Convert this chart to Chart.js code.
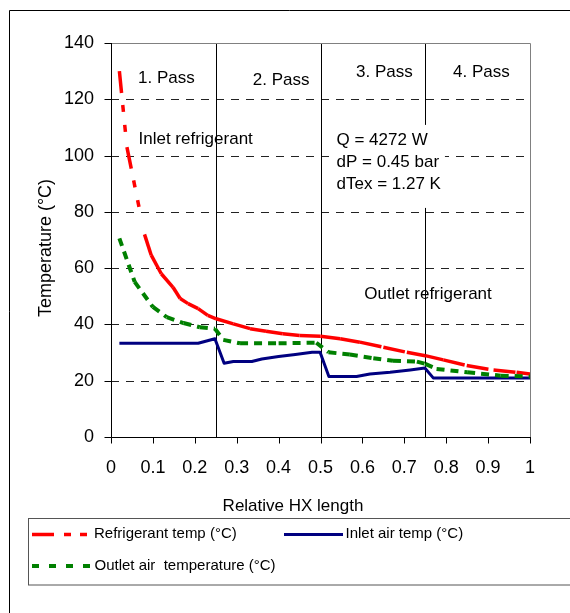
<!DOCTYPE html>
<html>
<head>
<meta charset="utf-8">
<script src="https://cdn.jsdelivr.net/npm/chart.js@4/dist/chart.umd.min.js"></script>
<style>
html,body{margin:0;padding:0;background:#fff;}
#wrap{position:relative;width:570px;height:613px;}
</style>
</head>
<body>
<div id="wrap"><canvas id="c" width="570" height="613"></canvas></div>
<script>
// ---- data ----
const refX    = [0.02, 0.038, 0.08, 0.096, 0.12, 0.148, 0.165, 0.184, 0.208, 0.231, 0.251, 0.292, 0.332, 0.37, 0.41, 0.45, 0.5, 0.547, 0.594, 0.65, 0.706, 0.75, 0.793, 0.849, 0.913, 0.968, 1.0];
const refT    = [130, 103, 72, 64.6, 58, 53.2, 49.2, 47.4, 45.6, 43.2, 42.0, 40.2, 38.5, 37.6, 36.7, 36.1, 35.8, 34.9, 33.7, 31.9, 30.1, 28.9, 27.4, 25.4, 23.8, 23.0, 22.4];

const inletX  = [0.02, 0.208, 0.248, 0.27, 0.292, 0.336, 0.36, 0.4, 0.44, 0.48, 0.499, 0.52, 0.586, 0.618, 0.666, 0.714, 0.749, 0.769, 1.0];
const inletT  = [33.3, 33.3, 34.9, 26.2, 26.8, 26.8, 27.7, 28.6, 29.3, 30.1, 30.1, 21.5, 21.5, 22.4, 23.0, 23.8, 24.5, 21.0, 21.0];

const outletX = [0.02, 0.0565, 0.1, 0.133, 0.173, 0.212, 0.248, 0.268, 0.308, 0.4, 0.49, 0.519, 0.57, 0.626, 0.673, 0.73, 0.75, 0.777, 0.85, 0.93, 1.0];
const outletT = [70.6, 55.1, 46.2, 42.6, 40.5, 39.0, 38.5, 34.5, 33.3, 33.3, 33.5, 30.1, 29.3, 28.0, 27.1, 26.8, 26.0, 24.2, 23.0, 21.8, 21.5];

const seriesNames = ['Refrigerant temp (°C)', 'Inlet air temp (°C)', 'Outlet air  temperature (°C)'];
const xTickLabels = ['0', '0.1', '0.2', '0.3', '0.4', '0.5', '0.6', '0.7', '0.8', '0.9', '1'];
const yTickLabels = ['0', '20', '40', '60', '80', '100', '120', '140'];
const passBounds  = [0.25, 0.5, 0.75];
const passLabels  = ['1. Pass', '2. Pass', '3. Pass', '4. Pass'];
const infoLines   = ['Q = 4272 W', 'dP = 0.45 bar', 'dTex = 1.27 K'];
const xTitle = 'Relative HX length';
const yTitle = 'Temperature (°C)';

// ---- styles / placements ----
const FONT = "'Liberation Sans', Arial, sans-serif";
const RED = '#FF0000', NAVY = '#000080', GREEN = '#008000';
const redDash = [22, 12, 7, 13, 7, 40];
const greenDash = [8, 6];
// text anchors in data units (x, temperature)
const passPos = [[0.0644, 125.8], [0.3384, 125.1], [0.5847, 127.8], [0.8162, 127.8]];
const inletLabelPos = [0.0656, 104.1];
const outletLabelPos = [0.6043, 49.0];
const infoPos = [[0.5382, 103.6], [0.5382, 95.8], [0.5382, 88.0]];
const infoBox = [0.535, 0.797, 110.9, 81.4];

const pts = (xs, ys) => xs.map((v, i) => ({x: v, y: ys[i]}));
const restart = c => (c.p0DataIndex % 2) * 0.001; // restart dash pattern at every data segment

const overlay = {
  id: 'overlay',
  beforeDraw(chart) {
    const ctx = chart.ctx;
    ctx.save();
    ctx.fillStyle = '#fff';
    ctx.fillRect(0, 0, chart.width, chart.height);
    ctx.strokeStyle = '#000';
    ctx.lineWidth = 1;
    ctx.beginPath();
    ctx.moveTo(9.5, chart.height);
    ctx.lineTo(9.5, 10.5);
    ctx.lineTo(chart.width, 10.5);
    ctx.stroke();
    ctx.restore();
  },
  beforeDatasetsDraw(chart) {
    const {ctx, chartArea: a, scales: {x, y}} = chart;
    ctx.save();
    ctx.strokeStyle = '#222';
    ctx.lineWidth = 1;
    ctx.setLineDash([8, 7]);
    for (let v = 20; v < 140; v += 20) {
      const py = Math.round(y.getPixelForValue(v)) + 0.5;
      ctx.beginPath(); ctx.moveTo(a.left, py); ctx.lineTo(a.right, py); ctx.stroke();
    }
    ctx.setLineDash([]);
    ctx.strokeStyle = '#000';
    for (const b of passBounds) {
      const px = Math.round(x.getPixelForValue(b)) + 0.5;
      ctx.beginPath(); ctx.moveTo(px, a.top); ctx.lineTo(px, a.bottom); ctx.stroke();
    }
    ctx.strokeStyle = '#808080';
    ctx.beginPath();
    ctx.moveTo(a.left, a.top + 0.5); ctx.lineTo(a.right + 0.5, a.top + 0.5); ctx.lineTo(a.right + 0.5, a.bottom);
    ctx.stroke();
    ctx.strokeStyle = '#000';
    const lx = Math.round(a.left) + 0.5, by = Math.round(a.bottom) + 0.5;
    ctx.beginPath(); ctx.moveTo(lx, a.top); ctx.lineTo(lx, by); ctx.lineTo(a.right + 1, by); ctx.stroke();
    for (let v = 0; v <= 140; v += 20) {
      const py = Math.round(y.getPixelForValue(v)) + 0.5;
      ctx.beginPath(); ctx.moveTo(lx - 7, py); ctx.lineTo(lx, py); ctx.stroke();
    }
    for (let i = 0; i <= 10; i++) {
      const px = Math.round(x.getPixelForValue(i / 10)) + 0.5;
      ctx.beginPath(); ctx.moveTo(px, by); ctx.lineTo(px, by + 6); ctx.stroke();
    }
    const bx0 = x.getPixelForValue(infoBox[0]), bx1 = x.getPixelForValue(infoBox[1]);
    const by0 = y.getPixelForValue(infoBox[2]), by1 = y.getPixelForValue(infoBox[3]);
    ctx.fillStyle = '#fff';
    ctx.fillRect(bx0, by0, bx1 - bx0, by1 - by0);
    ctx.restore();
  },
  afterDatasetsDraw(chart) {
    const {ctx, scales: {x, y}} = chart;
    ctx.save();
    ctx.fillStyle = '#000';
    ctx.textBaseline = 'alphabetic';
    ctx.textAlign = 'left';
    ctx.font = '17px ' + FONT;
    const put = (t, p) => ctx.fillText(t, x.getPixelForValue(p[0]), y.getPixelForValue(p[1]));
    passLabels.forEach((t, i) => put(t, passPos[i]));
    put('Inlet refrigerant', inletLabelPos);
    put('Outlet refrigerant', outletLabelPos);
    infoLines.forEach((t, i) => put(t, infoPos[i]));

    ctx.textAlign = 'center';
    ctx.fillText(xTitle, 293, 510.5);
    ctx.save();
    ctx.translate(51, 248);
    ctx.rotate(-Math.PI / 2);
    ctx.font = '18px ' + FONT;
    ctx.fillText(yTitle, 0, 0);
    ctx.restore();

    ctx.strokeStyle = '#555';
    ctx.lineWidth = 1;
    ctx.strokeRect(28.5, 518.5, 560, 66.5);
    const sample = (x0, x1, yy, color, w, dash) => {
      ctx.save();
      ctx.strokeStyle = color; ctx.lineWidth = w; ctx.setLineDash(dash);
      ctx.beginPath(); ctx.moveTo(x0, yy); ctx.lineTo(x1, yy); ctx.stroke();
      ctx.restore();
    };
    sample(32, 87, 534.5, RED, 3.5, [22, 10, 7, 9, 7, 40]);
    sample(284, 343, 534.5, NAVY, 3, []);
    sample(32, 90, 566, GREEN, 4, [7, 10]);
    ctx.textAlign = 'left';
    ctx.font = '15px ' + FONT;
    ctx.fillText(seriesNames[0], 94, 537.5);
    ctx.fillText(seriesNames[1], 345.5, 537.5);
    ctx.fillText(seriesNames[2], 94.5, 570);
    ctx.restore();
  }
};

new Chart(document.getElementById('c'), {
  type: 'line',
  data: {
    datasets: [
      {label: seriesNames[0], data: pts(refX, refT), borderColor: RED, borderWidth: 3.5,
       borderDash: redDash, segment: {borderDashOffset: restart}, order: 3},
      {label: seriesNames[1], data: pts(inletX, inletT), borderColor: NAVY, borderWidth: 3, order: 2},
      {label: seriesNames[2], data: pts(outletX, outletT), borderColor: GREEN, borderWidth: 4,
       borderDash: greenDash, segment: {borderDashOffset: restart}, order: 1}
    ]
  },
  options: {
    responsive: false,
    animation: false,
    devicePixelRatio: 1,
    layout: {padding: {top: 43, right: 40, left: 0, bottom: 0}},
    elements: {point: {radius: 0}, line: {tension: 0, fill: false, borderJoinStyle: 'round'}},
    plugins: {legend: {display: false}, tooltip: {enabled: false}},
    scales: {
      x: {
        type: 'linear', min: 0, max: 1,
        afterFit(s) { s.height = 176; },
        grid: {display: false, drawTicks: false},
        border: {display: false},
        ticks: {stepSize: 0.1, autoSkip: false, maxRotation: 0, padding: 20, color: '#000',
                font: {family: FONT, size: 18}, callback: (v, i) => xTickLabels[i]}
      },
      y: {
        type: 'linear', min: 0, max: 140,
        afterFit(s) { s.width = 111; },
        grid: {display: false, drawTicks: false},
        border: {display: false},
        ticks: {stepSize: 20, padding: 17, color: '#000',
                font: {family: FONT, size: 18}, callback: (v, i) => yTickLabels[i]}
      }
    }
  },
  plugins: [overlay]
});
</script>
</body>
</html>
